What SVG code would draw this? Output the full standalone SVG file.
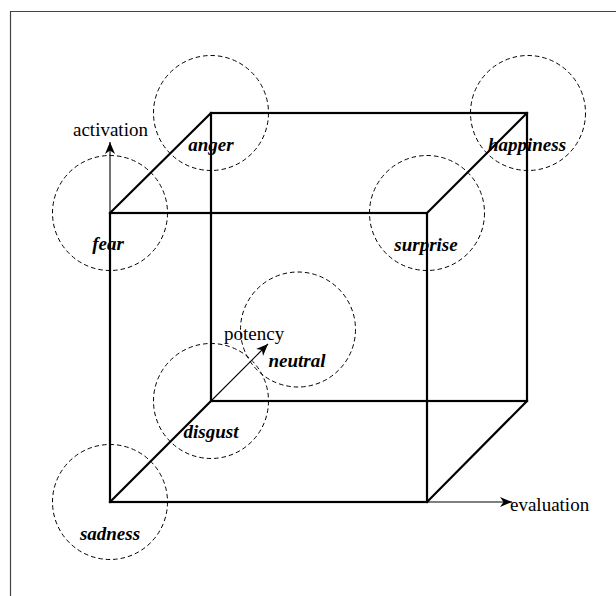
<svg xmlns="http://www.w3.org/2000/svg" width="616" height="596" viewBox="0 0 616 596">
  <style>
    .frame { fill: none; stroke: #444; stroke-width: 1.2; }
    .edge { fill: none; stroke: #000; stroke-width: 2.2; stroke-linecap: square; }
    .axis { fill: none; stroke: #000; stroke-width: 1.1; }
    .zone { fill: none; stroke: #000; stroke-width: 1; stroke-dasharray: 4.5 3; }
    .axis-label { font-family: "Liberation Serif", "Times New Roman", serif; font-size: 19px; fill: #000; }
    .emotion { font-family: "Liberation Serif", "Times New Roman", serif; font-size: 19px; font-weight: bold; font-style: italic; fill: #000; text-anchor: middle; }
  </style>
  <defs>
    <marker id="arrow" markerUnits="userSpaceOnUse" markerWidth="13" markerHeight="11" refX="12" refY="5" orient="auto">
      <path d="M0,0 L12,5 L0,10 L3.5,5 Z" fill="#000"/>
    </marker>
  </defs>

  <rect width="616" height="596" fill="#fff"/>
  <path class="frame" d="M10.5,596 V11.5 H616"/>

  <!-- cube wireframe -->
  <g id="cube">
    <rect class="edge" x="211" y="113" width="316" height="288"/>
    <rect class="edge" x="110" y="213" width="317" height="289"/>
    <path class="edge" d="M110,213 L211,113 M427,213 L527,113 M110,502 L211,401 M427,502 L527,401"/>
  </g>

  <!-- axes -->
  <g id="connectors">
    <line class="axis" x1="110" y1="213" x2="110" y2="142" marker-end="url(#arrow)"/>
    <line class="axis" x1="427" y1="502" x2="512" y2="502" marker-end="url(#arrow)"/>
    <line class="axis" x1="211" y1="401" x2="268" y2="344" marker-end="url(#arrow)"/>
  </g>

  <g id="axis-labels">
    <text class="axis-label" x="73" y="136">activation</text>
    <text class="axis-label" x="224" y="340">potency</text>
    <text class="axis-label" x="510" y="511">evaluation</text>
  </g>

  <!-- emotion regions -->
  <g id="fear">
    <circle class="zone" cx="110" cy="213" r="57.5"/>
    <text class="emotion" x="108" y="250">fear</text>
  </g>
  <g id="anger">
    <circle class="zone" cx="211" cy="113" r="57.5"/>
    <text class="emotion" x="211" y="151">anger</text>
  </g>
  <g id="happiness">
    <circle class="zone" cx="528" cy="113" r="57.5"/>
    <text class="emotion" x="527" y="151">happiness</text>
  </g>
  <g id="surprise">
    <circle class="zone" cx="427" cy="213" r="57.5"/>
    <text class="emotion" x="426" y="251">surprise</text>
  </g>
  <g id="neutral">
    <circle class="zone" cx="298" cy="329.5" r="57.5"/>
    <text class="emotion" x="297" y="367">neutral</text>
  </g>
  <g id="disgust">
    <circle class="zone" cx="211" cy="401" r="57.5"/>
    <text class="emotion" x="211" y="438">disgust</text>
  </g>
  <g id="sadness">
    <circle class="zone" cx="110" cy="502" r="57.5"/>
    <text class="emotion" x="110" y="540">sadness</text>
  </g>
</svg>
